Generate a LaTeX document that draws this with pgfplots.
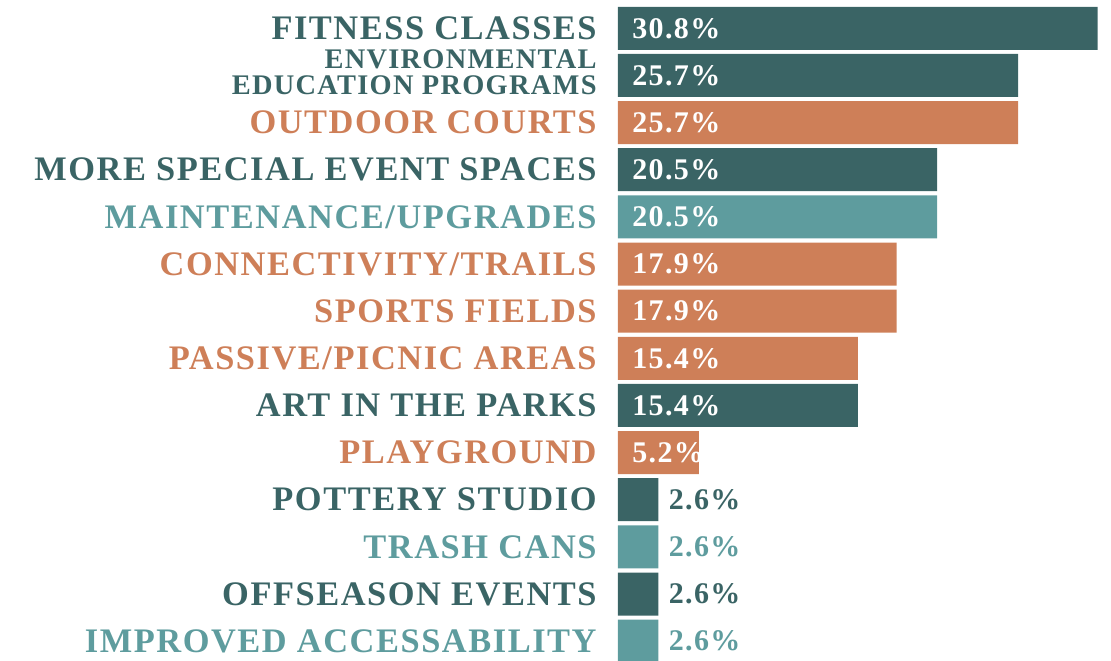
\documentclass[border=0pt]{standalone}
\usepackage{fontspec}
\setmainfont{Liberation Serif}
\newfontfamily\labfont{Liberation Serif}[LetterSpace=4.5]
\usepackage{pgfplots}
\pgfplotsset{compat=1.18}
\definecolor{dk}{HTML}{3A6465}
\definecolor{lt}{HTML}{5E9C9E}
\definecolor{or}{HTML}{CE7F58}

\begin{document}
\begin{tikzpicture}
\begin{axis}[
  scale only axis,
  width=246.5pt, height=330pt,
  xmin=0, xmax=31.66,
  ymin=-0.6, ymax=13.4,
  y dir=reverse,
  axis line style={draw=none},
  xtick=\empty,
  ytick={0,...,13},
  major tick length=0pt,
  yticklabel style={anchor=east, inner sep=0pt, xshift=-10.5pt,
    font=\labfont\bfseries\fontsize{17.2}{17.2}\selectfont},
  yticklabels={
    \textcolor{dk}{FITNESS CLASSES},
    \textcolor{dk}{\fontsize{14.2}{11.4}\selectfont\raisebox{-1.5pt}{\begin{tabular}{@{}r@{}}ENVIRONMENTAL\\EDUCATION PROGRAMS\end{tabular}}},
    \textcolor{or}{OUTDOOR COURTS},
    \textcolor{dk}{MORE SPECIAL EVENT SPACES},
    \textcolor{lt}{MAINTENANCE/UPGRADES},
    \textcolor{or}{CONNECTIVITY/TRAILS},
    \textcolor{or}{SPORTS FIELDS},
    \textcolor{or}{PASSIVE/PICNIC AREAS},
    \textcolor{dk}{ART IN THE PARKS},
    \textcolor{or}{PLAYGROUND},
    \textcolor{dk}{POTTERY STUDIO},
    \textcolor{lt}{TRASH CANS},
    \textcolor{dk}{OFFSEASON EVENTS},
    \textcolor{lt}{IMPROVED ACCESSABILITY}},
  every axis plot/.append style={bar width=21.5pt, bar shift=0pt},
  pct/.style={draw=none, mark=none, nodes near coords={\pgfplotspointmeta\%},
    point meta=explicit symbolic},
]
% dark teal bars
\addplot[xbar, fill=dk, draw=none] coordinates {
  (30.8,0) (25.7,1) (20.5,3) (15.4,8) (2.6,10) (2.6,12)
};
% light teal bars
\addplot[xbar, fill=lt, draw=none] coordinates {
  (20.5,4) (2.6,11) (2.6,13)
};
% orange bars
\addplot[xbar, fill=or, draw=none] coordinates {
  (25.7,2) (17.9,5) (17.9,6) (15.4,7) (5.2,9)
};
% value labels inside the bars
\addplot[pct, nodes near coords style={anchor=west, inner sep=0pt, xshift=7pt, text=white,
    font=\labfont\bfseries\fontsize{15}{15}\selectfont}] coordinates {
  (0,0) [30.8] (0,1) [25.7] (0,2) [25.7] (0,3) [20.5] (0,4) [20.5]
  (0,5) [17.9] (0,6) [17.9] (0,7) [15.4] (0,8) [15.4] (0,9) [5.2]
};
% value labels outside the small bars
\addplot[pct, nodes near coords style={anchor=west, inner sep=0pt, xshift=5pt, text=dk,
    font=\labfont\bfseries\fontsize{15}{15}\selectfont}] coordinates {
  (2.6,10) [2.6] (2.6,12) [2.6]
};
\addplot[pct, nodes near coords style={anchor=west, inner sep=0pt, xshift=5pt, text=lt,
    font=\labfont\bfseries\fontsize{15}{15}\selectfont}] coordinates {
  (2.6,11) [2.6] (2.6,13) [2.6]
};
\end{axis}
\pgfresetboundingbox
\path ([xshift=-309pt]current axis.south west) rectangle (current axis.north east);
\end{tikzpicture}
\end{document}
